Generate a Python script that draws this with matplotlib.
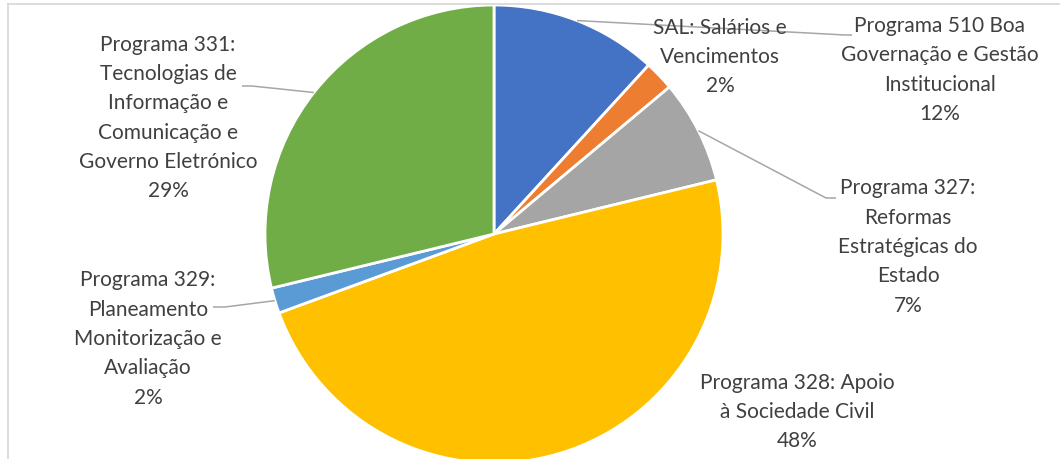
#!/usr/bin/env python3

import numpy as np
import matplotlib
matplotlib.use("Agg")
import matplotlib.pyplot as plt
from matplotlib.lines import Line2D

labels = [
    "Programa 510 Boa\nGovernação e Gestão\nInstitucional",
    "SAL: Salários e\nVencimentos",
    "Programa 327:\nReformas\nEstratégicas do\nEstado",
    "Programa 328: Apoio\nà Sociedade Civil",
    "Programa 329:\nPlaneamento\nMonitorização e\nAvaliação",
    "Programa 331:\nTecnologias de\nInformação e\nComunicação e\nGoverno Eletrónico",
]
values = [11.8, 2.1, 7.3, 48.2, 1.8, 28.8]
colors = ["#4472C4", "#ED7D31", "#A5A5A5", "#FFC000", "#5B9BD5", "#70AD47"]

# layout in pixels of the 1060x459 output
W, H = 1060, 459
cx, cy, R = 494, 234, 229
label_pos = [(940, 70), (720, 57), (908, 247), (797, 412), (148, 339), (168, 118)]
# leader: (elbow, end) next to the label, None = no leader
leaders = [((845, 35), (852, 35)), None, ((826, 198), (836, 198)), None,
           ((225, 307), (213, 307)), ((252, 86), (242, 86))]


def px(x, y):
    return (x - cx) / R, (cy - y) / R


plt.rcParams["font.family"] = ["Lato", "DejaVu Sans"]
text_color = "#404040"

fig = plt.figure(figsize=(W / 100, H / 100), dpi=100)
ax = fig.add_axes([0, 0, 1, 1])
wedges, _ = ax.pie(values, colors=colors, startangle=90, counterclock=False,
                   wedgeprops=dict(edgecolor="white", linewidth=2))
ax.set_xlim(-cx / R, (W - cx) / R)
ax.set_ylim(-(H - cy) / R, cy / R)
ax.set_aspect("auto")
ax.axis("off")

total = sum(values)
for i, w in enumerate(wedges):
    pct = round(values[i] / total * 100)
    tx, ty = px(*label_pos[i])
    ax.text(tx, ty, f"{labels[i]}\n{pct}%", ha="center", va="center",
            fontsize=15, color=text_color, linespacing=1.58)
    if leaders[i] is not None:
        mid = np.deg2rad((w.theta1 + w.theta2) / 2)
        ex, ey = np.cos(mid), np.sin(mid)
        (bx, by), (fx, fy) = leaders[i]
        bx, by = px(bx, by)
        fx, fy = px(fx, fy)
        ax.plot([ex, bx, fx], [ey, by, fy], color="#A6A6A6", lw=1.1,
                solid_capstyle="butt", zorder=3)

# chart area border (top and left visible)
fig.add_artist(Line2D([8 / W, 1], [1 - 4 / H, 1 - 4 / H], color="#D9D9D9", lw=1.3,
                      transform=fig.transFigure))
fig.add_artist(Line2D([8 / W, 8 / W], [0, 1 - 4 / H], color="#D9D9D9", lw=1.3,
                      transform=fig.transFigure))

plt.savefig("out.png", dpi=100)
